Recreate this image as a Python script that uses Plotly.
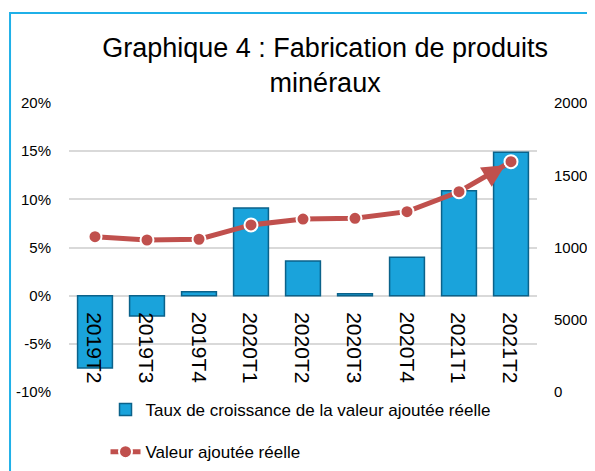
import plotly.graph_objects as go

# trimestres
trimestres = ['2019T2', '2019T3', '2019T4', '2020T1', '2020T2',
              '2020T3', '2020T4', '2021T1', '2021T2']
# taux de croissance (%)
taux = [-7.5, -2.1, 0.4, 9.1, 3.6, 0.2, 4.0, 10.9, 14.9]
# valeur ajoutee reelle
valeur = [10750, 10520, 10570, 11560, 11970, 12020, 12480, 13860, 15940]

# graduations
ticks_gauche = [-10, -5, 0, 5, 10, 15, 20]
labels_gauche = ['-10%', '-5%', '0%', '5%', '10%', '15%', '20%']
ticks_droite = [0, 5000, 10000, 15000, 20000]
labels_droite = ['0', '5000', '10000', '15000', '20000']

rouge = '#C0504D'
bleu = '#1AA3DB'
police = 'Liberation Sans'

fig = go.Figure()

fig.add_trace(go.Bar(
    x=trimestres, y=taux,
    name='Taux de croissance de la valeur ajoutée réelle',
    marker=dict(color=bleu, line=dict(color='#0B628A', width=1.5)),
    legendgroup='a',
))

fig.add_trace(go.Scatter(
    x=trimestres, y=valeur, yaxis='y2',
    name='Valeur ajoutée réelle',
    mode='lines+markers',
    line=dict(color=rouge, width=5),
    marker=dict(size=13, color=rouge, line=dict(color='white', width=2)),
    legendgroup='b',
))

# fleche au bout de la courbe
fig.add_annotation(
    x=trimestres[-1], y=valeur[-1], xref='x', yref='y2',
    ax=-26, ay=16, showarrow=True, arrowhead=2, arrowsize=0.9,
    arrowwidth=5, arrowcolor=rouge, standoff=7, text='',
)

# etiquettes des categories, tournees, sous la ligne zero
for t in trimestres:
    fig.add_annotation(
        x=t, y=0, xref='x', yref='y', text=t, showarrow=False,
        textangle=90, yanchor='top', yshift=-14,
        font=dict(family=police, size=21, color='black'),
    )

# cadre bleu
fig.add_shape(type='rect', xref='paper', yref='paper',
              x0=-0.126, x1=1.2, y0=-0.5, y1=1.311,
              line=dict(color='#1FB0E8', width=2))

# la page ajoute ~8px de marge autour du graphique
fig.update_layout(
    width=595, height=471,
    margin=dict(l=61, r=66, t=95, b=87, autoexpand=False),
    paper_bgcolor='white', plot_bgcolor='white',
    font=dict(family=police, color='black'),
    title=dict(text='Graphique 4 : Fabrication de produits<br>minéraux',
               x=0.533, xanchor='center', y=0.897, yanchor='top',
               font=dict(family=police, size=27, color='black')),
    bargap=0.33,
    showlegend=True,
    legend=dict(x=0.078, y=0.0, xanchor='left', yanchor='top',
                orientation='v', tracegroupgap=17,
                font=dict(family=police, size=17, color='black'),
                bgcolor='rgba(0,0,0,0)'),
    xaxis=dict(range=[-0.5, len(trimestres) - 0.5],
               showticklabels=False, showgrid=False, zeroline=False,
               showline=False, ticks=''),
    yaxis=dict(range=[-10, 20], tickvals=ticks_gauche, ticktext=labels_gauche,
               showgrid=True, gridcolor='#D9D9D9', gridwidth=1.5,
               zeroline=True, zerolinecolor='#D9D9D9', zerolinewidth=1.5,
               ticklabelstandoff=17,
               tickfont=dict(family=police, size=15, color='black')),
    yaxis2=dict(range=[0, 20000], tickvals=ticks_droite, ticktext=labels_droite,
                overlaying='y', side='right',
                showgrid=False, zeroline=False, ticklabelstandoff=16,
                tickfont=dict(family=police, size=15, color='black')),
)

fig.write_html('out.html')
